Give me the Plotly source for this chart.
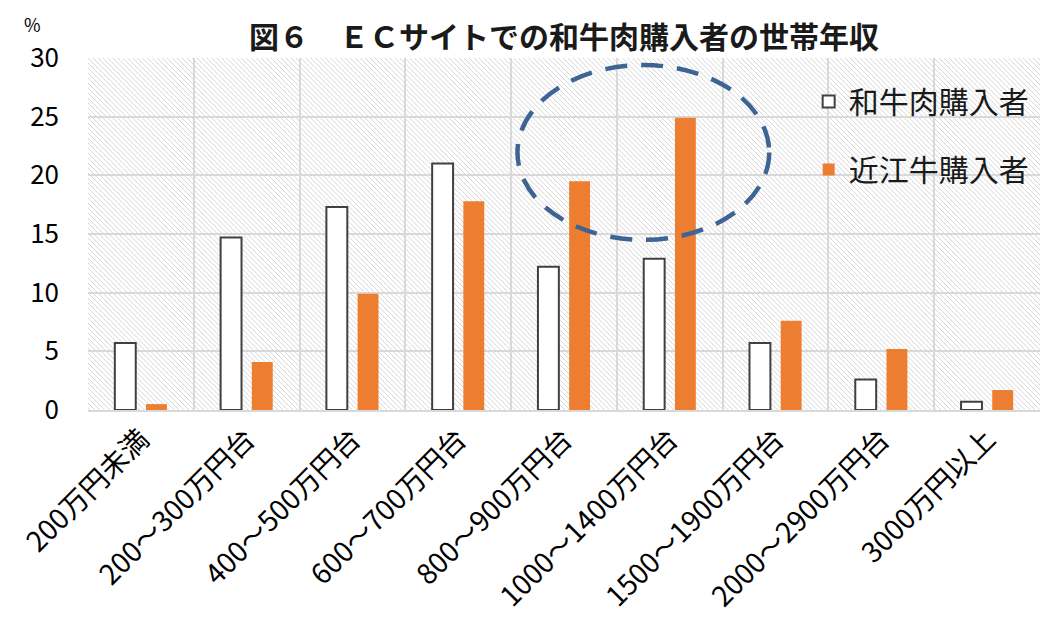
import base64
import plotly.graph_objects as go

categories = ["200万円未満", "200～300万円台", "400～500万円台", "600～700万円台",
              "800～900万円台", "1000～1400万円台", "1500～1900万円台",
              "2000～2900万円台", "3000万円以上"]
wagyu = [5.7, 14.7, 17.3, 21.0, 12.2, 12.9, 5.7, 2.6, 0.7]
omi = [0.5, 4.1, 9.9, 17.8, 19.5, 24.9, 7.6, 5.2, 1.7]
series_names = ["和牛肉購入者", "近江牛購入者"]
title_text = "図６　ＥＣサイトでの和牛肉購入者の世帯年収"
y_ticks = [0, 5, 10, 15, 20, 25, 30]

FONT = "Noto Sans CJK JP, Noto Sans, sans-serif"

W, H = 962, 352
svg = f'''<svg xmlns="http://www.w3.org/2000/svg" width="{W}" height="{H}" viewBox="0 0 {W} {H}" preserveAspectRatio="none">
<defs><pattern id="p" patternUnits="userSpaceOnUse" width="5" height="5">
<rect width="5" height="5" fill="#ffffff"/>
<path d="M-1,-1 L6,6 M-1,4 L1,6 M4,-1 L6,1" stroke="#d6d6d6" stroke-width="1.0"/>
</pattern></defs>
<rect width="{W}" height="{H}" fill="url(#p)"/></svg>'''
bg_uri = "data:image/svg+xml;base64," + base64.b64encode(svg.encode()).decode()

fig = go.Figure()
fig.add_trace(go.Bar(
    x=categories, y=wagyu, name=series_names[0], legendgroup="a",
    marker=dict(color="#ffffff", line=dict(color="#404040", width=2)),
))
fig.add_trace(go.Bar(
    x=categories, y=omi, name=series_names[1], legendgroup="b",
    marker=dict(color="#ED7D31", line=dict(color="#ED7D31", width=0)),
))

fig.add_shape(type="circle", xref="x", yref="y", x0=3.56, x1=5.94, y0=14.5, y1=29.4,
              line=dict(color="#3E6494", width=4.5, dash="22px,14px"), layer="above")

fig.add_layout_image(dict(source=bg_uri, xref="paper", yref="paper", x=0, y=1,
                          sizex=1, sizey=1, xanchor="left", yanchor="top",
                          sizing="stretch", layer="below"))

fig.add_annotation(text="%", xref="paper", yref="paper", x=-0.058, y=1.136,
                   xanchor="center", yanchor="top", showarrow=False, borderpad=0,
                   font=dict(size=18, color="#000000", family=FONT))

fig.update_layout(
    width=1041, height=624,
    margin=dict(l=70, r=9, t=50, b=222),
    paper_bgcolor="#ffffff", plot_bgcolor="rgba(0,0,0,0)",
    title=dict(text="<b>" + title_text + "</b>", x=0.534, xanchor="center",
               y=0.953, yanchor="middle",
               font=dict(size=30, color="#1a1a1a", family=FONT)),
    barmode="group", bargap=0.41, bargroupgap=0.33,
    showlegend=True,
    legend=dict(x=0.757, y=0.95, xanchor="left", yanchor="top",
                bgcolor="rgba(0,0,0,0)", traceorder="grouped", tracegroupgap=26,
                font=dict(size=30, color="#1a1a1a", family=FONT),
                itemsizing="constant"),
    font=dict(family=FONT, color="#000000"),
)
fig.update_xaxes(tickangle=-45, tickfont=dict(size=28, family=FONT, color="#000000"),
                 showgrid=True, gridcolor="#d9d9d9", gridwidth=1.5,
                 tickson="boundaries", ticks="", showline=True, linecolor="#d9d9d9",
                 linewidth=1.5)
fig.update_yaxes(range=[0, 30], tickvals=y_ticks, showgrid=True, gridcolor="#d9d9d9",
                 gridwidth=1.5, zeroline=False, ticks="", ticklabelstandoff=28,
                 tickfont=dict(size=26, family=FONT, color="#000000"))

fig.write_html("out.html")
